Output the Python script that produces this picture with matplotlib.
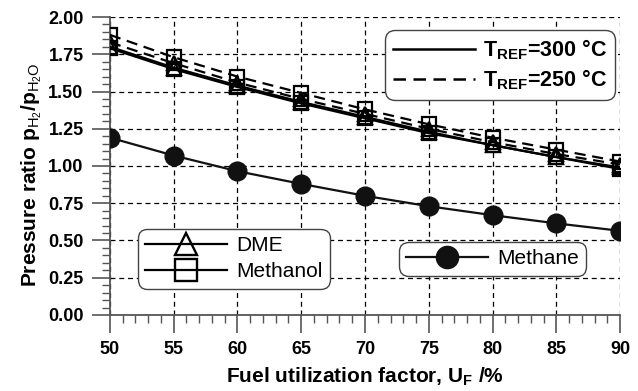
import matplotlib
matplotlib.use("Agg")
import matplotlib.pyplot as plt
from matplotlib.lines import Line2D
from matplotlib.ticker import MultipleLocator, FormatStrFormatter

plt.rcParams['font.family'] = ['Liberation Sans', 'DejaVu Sans']
plt.rcParams['mathtext.fontset'] = 'custom'
plt.rcParams['mathtext.rm'] = 'Liberation Sans'
plt.rcParams['mathtext.bf'] = 'Liberation Sans:bold'
plt.rcParams['mathtext.it'] = 'Liberation Sans:italic'

# ---- data ----
uf = [50, 55, 60, 65, 70, 75, 80, 85, 90]
methanol_250 = [1.88, 1.73, 1.60, 1.49, 1.38, 1.28, 1.19, 1.11, 1.03]
dme_250 = [1.83, 1.69, 1.56, 1.45, 1.35, 1.25, 1.16, 1.08, 1.01]
dme_300 = [1.80, 1.66, 1.54, 1.43, 1.33, 1.23, 1.14, 1.06, 0.99]
methanol_300 = [1.79, 1.65, 1.53, 1.42, 1.32, 1.22, 1.14, 1.06, 0.98]
methane = [1.19, 1.07, 0.965, 0.88, 0.80, 0.73, 0.67, 0.615, 0.565]

fig = plt.figure(figsize=(6.38, 3.91), dpi=100)
ax = fig.add_axes([0.1724, 0.1944, 0.7994, 0.7621])

lw = 1.6
dash = (0, (5, 3))
sq = dict(marker="s", markersize=10.5, fillstyle="none", markeredgewidth=1.6, color="black", linewidth=lw)
tri = dict(marker="^", markersize=10, fillstyle="none", markeredgewidth=1.6, color="black", linewidth=lw)

ax.plot(uf, methanol_250, linestyle=dash, **sq, zorder=3)
ax.plot(uf, dme_250, linestyle=dash, **tri, zorder=3)
ax.plot(uf, methanol_300, linestyle="-", **sq, zorder=4)
ax.plot(uf, dme_300, linestyle="-", **tri, zorder=4)
ax.plot(uf, methane, linestyle="-", marker="o", markersize=13.5, color="#111111",
        linewidth=lw, zorder=4)

ax.set_xlim(50, 90)
ax.set_ylim(0, 2.0)
ax.xaxis.set_major_locator(MultipleLocator(5))
ax.xaxis.set_minor_locator(MultipleLocator(1))
ax.yaxis.set_major_locator(MultipleLocator(0.25))
ax.yaxis.set_minor_locator(MultipleLocator(0.05))
ax.yaxis.set_major_formatter(FormatStrFormatter("%.2f"))

ax.grid(True, which="major", linestyle=(0, (4, 3)), color="black", linewidth=0.9)
ax.set_axisbelow(True)

for s in ["top", "right"]:
    ax.spines[s].set_visible(False)
for s in ["left", "bottom"]:
    ax.spines[s].set_color("#555555")
    ax.spines[s].set_linewidth(1.3)

ax.tick_params(which="major", direction="out", length=13, width=1.2, color="#555555",
               labelsize=13, pad=6)
ax.tick_params(which="minor", direction="out", length=6, width=1.0, color="#555555")
for lab in ax.get_xticklabels() + ax.get_yticklabels():
    lab.set_fontweight("bold")

ax.set_xlabel(r"Fuel utilization factor, U$_{\mathbf{F}}$ /%", fontsize=15,
              fontweight="bold", labelpad=5)
ax.set_ylabel(r"Pressure ratio p$_{\mathrm{H_2}}$/p$_{\mathrm{H_2O}}$", fontsize=15,
              fontweight="bold")
ax.yaxis.set_label_coords(-0.13, 0.47)

# ---- legends ----
def style_frame(leg):
    fr = leg.get_frame()
    fr.set_linewidth(1.0)
    fr.set_edgecolor("#444444")
    fr.set_boxstyle("round,pad=0,rounding_size=0.45")

temp_handles = [Line2D([], [], color="black", linewidth=1.8, linestyle="-"),
                Line2D([], [], color="black", linewidth=1.8, linestyle=dash)]
leg1 = ax.legend(temp_handles, [r"T$_{\mathbf{REF}}$=300 °C", r"T$_{\mathbf{REF}}$=250 °C"],
                 loc="upper right", bbox_to_anchor=(0.99, 0.956),
                 prop={"size": 15.5, "weight": "bold"}, handlelength=3.8,
                 fancybox=True, framealpha=1,
                 borderpad=0.35, labelspacing=0.25, handletextpad=0.4, borderaxespad=0)
style_frame(leg1)
ax.add_artist(leg1)

fuel_handles = [Line2D([], [], color="black", linewidth=lw, marker="^", markersize=16,
                       fillstyle="none", markeredgewidth=1.7),
                Line2D([], [], color="black", linewidth=lw, marker="s", markersize=16,
                       fillstyle="none", markeredgewidth=1.7)]
leg2 = ax.legend(fuel_handles, ["DME", "Methanol"], loc="upper left",
                 bbox_to_anchor=(0.055, 0.289), fontsize=15, handlelength=3.9,
                 fancybox=True, framealpha=1,
                 borderpad=0.35, labelspacing=0.35, handletextpad=0.45, borderaxespad=0)
style_frame(leg2)
ax.add_artist(leg2)

ch4_handle = [Line2D([], [], color="#111111", linewidth=lw, marker="o", markersize=16)]
leg3 = ax.legend(ch4_handle, ["Methane"], loc="upper left",
                 bbox_to_anchor=(0.567, 0.245), fontsize=15, handlelength=3.9,
                 fancybox=True, framealpha=1,
                 borderpad=0.35, handletextpad=0.45, borderaxespad=0)
style_frame(leg3)

fig.savefig("out.png", dpi=100)
